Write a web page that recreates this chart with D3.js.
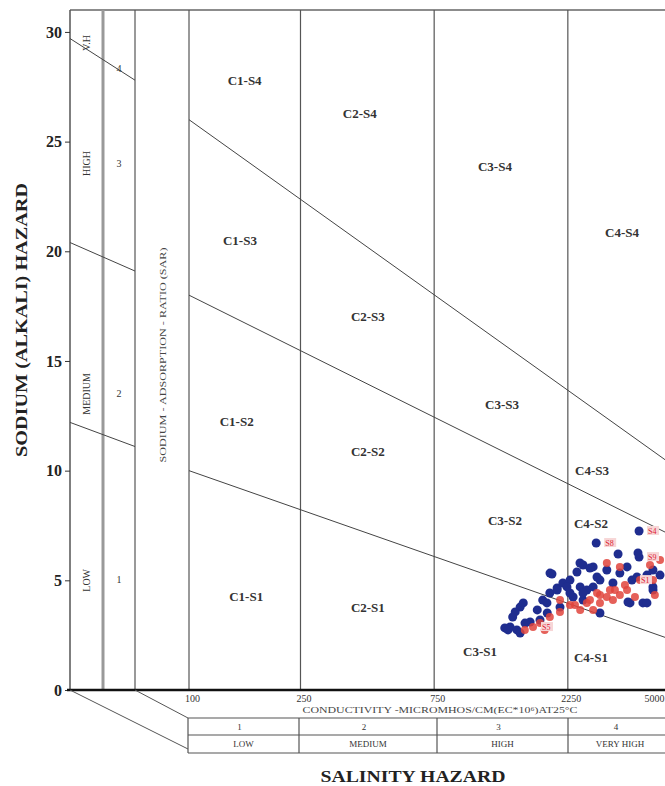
<!DOCTYPE html>
<html>
<head>
<meta charset="utf-8">
<script src="https://cdn.jsdelivr.net/npm/d3@7"></script>
<style>
  body { margin: 0; background: #fff; }
  svg { display: block; font-family: "Liberation Serif", "DejaVu Serif", serif; }
</style>
</head>
<body>
<svg width="665" height="786"></svg>
<script>
// conductivity ticks (micromhos/cm) and SAR ticks
const ecTicks = [100, 250, 750, 2250, 5000];
const sarTicks = [0, 5, 10, 15, 20, 25, 30];

const salinityClasses = ['1', '2', '3', '4'];
const salinityNames = ['LOW', 'MEDIUM', 'HIGH', 'VERY HIGH'];
const sodiumClasses = ['1', '2', '3', '4'];
const sodiumNames = ['LOW', 'MEDIUM', 'HIGH', 'V.H'];
const sodiumClassSar = [5, 13.5, 24, 29.5];   // where the class names sit on the left strip

// sodium hazard boundaries: [EC, SAR] at both ends
const s12 = [[100, 10], [5000, 2.4]];
const s23 = [[100, 18], [5000, 7.2]];
const s34 = [[100, 26], [5000, 10.5]];
// boundaries on the left SAR strip: SAR at left / right edge
const stripBounds = [[29.7, 27.8], [20.4, 19.1], [12.2, 11.1]];

const zoneLabels = [
  ['C1-S4', 158, 27.8], ['C2-S4', 407, 26.3], ['C3-S4', 1236, 23.9], ['C4-S4', 3512, 20.9],
  ['C1-S3', 152, 20.5], ['C2-S3', 435, 17.05], ['C3-S3', 1310, 13.04], ['C4-S3', 2744, 10.03],
  ['C1-S2', 148, 12.26], ['C2-S2', 435, 10.9], ['C3-S2', 1342, 7.75], ['C4-S2', 2721, 7.61],
  ['C1-S1', 160, 4.29], ['C2-S1', 435, 3.78], ['C3-S1', 1093, 1.78], ['C4-S1', 2721, 1.5]
];

// samples, season 1 (blue) : [EC, SAR]
const blueSamples = [
  [4040, 7.25], [2840, 6.70], [3400, 6.20], [4040, 6.06], [1975, 5.29], [2550, 5.70],
  [2425, 5.38], [2770, 5.61], [3100, 5.47], [3450, 5.33], [3810, 5.01], [4310, 5.24],
  [1520, 3.78], [1460, 3.56], [1560, 3.97], [1400, 2.87], [1480, 2.74], [1520, 2.60],
  [1650, 3.10], [1750, 3.65], [1830, 4.10], [1940, 4.42], [2060, 4.65], [2160, 4.88],
  [2290, 5.01], [2490, 4.70], [2630, 4.56], [2350, 4.24], [2110, 3.78], [1790, 3.19],
  [1900, 3.51], [2930, 3.51], [3750, 3.97], [4170, 3.97], [3260, 4.88], [2770, 4.70],
  [2550, 4.10], [1340, 2.83], [1430, 3.33], [1895, 3.97], [2060, 4.56], [4530, 4.56],
  [4800, 5.24], [3660, 5.61], [2930, 5.01], [1582, 3.05], [1376, 2.74], [2289, 4.42],
  [4005, 6.25], [4529, 5.47], [2486, 5.79], [2698, 5.56], [3972, 5.15], [4529, 4.70],
  [1943, 5.33], [3689, 4.01], [4311, 3.97], [2234, 4.70], [2548, 4.42], [2859, 5.15]
];
// samples, season 2 (red)
const redSamples = [
  [3100, 4.24], [2860, 4.42], [3260, 4.10], [2930, 3.97], [2630, 3.97], [1690, 2.87],
  [1790, 3.05], [4070, 5.01], [3660, 4.56], [4530, 5.01], [2110, 4.10], [1940, 3.33],
  [2490, 3.65], [3450, 5.61], [3100, 5.79], [1580, 2.74], [1860, 2.74], [2770, 3.65],
  [3180, 4.56], [2290, 3.88], [3450, 4.33], [4600, 4.33], [4800, 5.93], [4420, 5.70],
  [2931, 4.33], [3313, 4.56], [2698, 4.10], [2386, 3.88], [3597, 4.79], [2109, 3.56],
  [3906, 4.24]
];
const sampleLabels = [
  ['S4', 4040, 7.25], ['S8', 2840, 6.70], ['S5', 1690, 2.87], ['S9', 4040, 6.06], ['S1', 3810, 5.01]
];

const svg = d3.select('svg');

const x = d3.scaleLog().domain([100, 5000]).range([189, 665]);
const y = d3.scaleLinear().domain([0, 31]).range([690, 10]);

const left = 70, strip1 = 103, strip2 = 135;
const plotTop = y(31), plotBottom = y(0);

// frame
svg.append('line').attr('x1', left).attr('x2', 665).attr('y1', plotTop).attr('y2', plotTop)
  .attr('stroke', '#666').attr('stroke-width', 1.5);
svg.append('line').attr('x1', left).attr('x2', left).attr('y1', plotTop).attr('y2', plotBottom)
  .attr('stroke', '#555').attr('stroke-width', 1.5);
svg.append('line').attr('x1', strip1).attr('x2', strip1).attr('y1', plotTop).attr('y2', plotBottom)
  .attr('stroke', '#999').attr('stroke-width', 3);
svg.append('line').attr('x1', strip2).attr('x2', strip2).attr('y1', plotTop).attr('y2', plotBottom)
  .attr('stroke', '#555').attr('stroke-width', 1.2);

svg.selectAll('.vline')
  .data(ecTicks.slice(0, 4))
  .enter().append('line')
  .attr('class', 'vline')
  .attr('x1', d => x(d)).attr('x2', d => x(d))
  .attr('y1', plotTop).attr('y2', plotBottom)
  .attr('stroke', '#555').attr('stroke-width', 1.2);

// hazard boundaries
const line = d3.line().x(d => x(d[0])).y(d => y(d[1]));
svg.selectAll('.bound')
  .data([s12, s23, s34])
  .enter().append('path')
  .attr('class', 'bound')
  .attr('d', line)
  .attr('fill', 'none').attr('stroke', '#444').attr('stroke-width', 1);

svg.selectAll('.sbound')
  .data(stripBounds)
  .enter().append('line')
  .attr('x1', left).attr('x2', strip2)
  .attr('y1', d => y(d[0])).attr('y2', d => y(d[1]))
  .attr('stroke', '#444').attr('stroke-width', 1);

// strip texts
svg.selectAll('.sname')
  .data(sodiumNames)
  .enter().append('text')
  .attr('transform', (d, i) => 'translate(90,' + y(sodiumClassSar[i]) + ') rotate(-90)')
  .attr('text-anchor', 'middle')
  .attr('font-size', 10).attr('fill', '#333')
  .text(d => d);
svg.selectAll('.snum')
  .data(sodiumClasses)
  .enter().append('text')
  .attr('x', 119)
  .attr('y', (d, i) => y(sodiumClassSar[i] + (i === 3 ? -1.2 : 0)) + 3)
  .attr('text-anchor', 'middle')
  .attr('font-size', 10).attr('fill', '#333')
  .text(d => d);

svg.append('text')
  .attr('transform', 'translate(166,355) rotate(-90)')
  .attr('text-anchor', 'middle')
  .attr('font-size', 9).attr('fill', '#444')
  .attr('textLength', 215).attr('lengthAdjust', 'spacingAndGlyphs')
  .text('SODIUM - ADSORPTION - RATIO (SAR)');

// zone labels
svg.selectAll('.zone')
  .data(zoneLabels)
  .enter().append('text')
  .attr('x', d => x(d[1])).attr('y', d => y(d[2]) + 5)
  .attr('text-anchor', 'middle')
  .attr('font-size', 13).attr('font-weight', 'bold').attr('fill', '#333')
  .text(d => d[0]);

// samples
svg.selectAll('.blue')
  .data(blueSamples)
  .enter().append('circle')
  .attr('cx', d => x(d[0])).attr('cy', d => y(d[1]))
  .attr('r', 4.5).attr('fill', '#1f2d8f');
svg.selectAll('.red')
  .data(redSamples)
  .enter().append('circle')
  .attr('cx', d => x(d[0])).attr('cy', d => y(d[1]))
  .attr('r', 4).attr('fill', '#e0443c').attr('opacity', 0.85);
const lab = svg.selectAll('.slabel')
  .data(sampleLabels)
  .enter().append('g')
  .attr('transform', d => 'translate(' + (x(d[1]) + 8) + ',' + y(d[2]) + ')');
lab.append('rect')
  .attr('x', 0).attr('y', -5).attr('width', 12).attr('height', 9)
  .attr('fill', '#f7d6d6');
lab.append('text')
  .attr('x', 1).attr('y', 3)
  .attr('font-size', 8).attr('fill', '#d23')
  .text(d => d[0]);

// y axis
const yAxis = svg.append('g')
  .attr('transform', 'translate(' + left + ',0)')
  .call(d3.axisLeft(y).tickValues(sarTicks).tickSize(5).tickPadding(3));
yAxis.select('.domain').remove();
yAxis.selectAll('line').attr('stroke', '#333');
yAxis.selectAll('text')
  .attr('font-family', '"Liberation Serif", serif')
  .attr('font-size', 16).attr('font-weight', 'bold').attr('fill', '#222');

// x axis line and ticks
svg.append('line').attr('x1', 67).attr('x2', 665).attr('y1', plotBottom).attr('y2', plotBottom)
  .attr('stroke', '#111').attr('stroke-width', 2.5);
const xAxis = svg.append('g')
  .attr('transform', 'translate(0,' + plotBottom + ')')
  .call(d3.axisBottom(x).tickValues(ecTicks).tickSize(0).tickPadding(5).tickFormat(d3.format('d')));
xAxis.select('.domain').remove();
xAxis.selectAll('text')
  .attr('font-family', '"Liberation Serif", serif')
  .attr('font-size', 10).attr('fill', '#333')
  .attr('dx', (d, i) => i === ecTicks.length - 1 ? -1 : 3)
  .attr('text-anchor', (d, i) => i === ecTicks.length - 1 ? 'end' : 'middle');

svg.append('text')
  .attr('x', 440).attr('y', 713)
  .attr('text-anchor', 'middle')
  .attr('font-size', 9).attr('fill', '#444')
  .attr('textLength', 275).attr('lengthAdjust', 'spacingAndGlyphs')
  .text('CONDUCTIVITY -MICROMHOS/CM(EC*10\u2076)AT25\u00b0C');

// perspective lines to the salinity table
const tTop = 718, tMid = 735, tBot = 753, tLeft = 188;
svg.append('line').attr('x1', left).attr('y1', plotBottom).attr('x2', tLeft).attr('y2', tBot - 4)
  .attr('stroke', '#555').attr('stroke-width', 1);
svg.append('line').attr('x1', strip2).attr('y1', plotBottom).attr('x2', tLeft).attr('y2', tTop)
  .attr('stroke', '#555').attr('stroke-width', 1);

// salinity table
[tTop, tMid, tBot].forEach(ty => {
  svg.append('line').attr('x1', tLeft).attr('x2', 665).attr('y1', ty).attr('y2', ty)
    .attr('stroke', '#555').attr('stroke-width', 1.2);
});
const cellEdges = [tLeft, 299, 437, 568, 672];
svg.selectAll('.tdiv')
  .data(cellEdges.slice(0, 4))
  .enter().append('line')
  .attr('x1', d => d).attr('x2', d => d)
  .attr('y1', tTop).attr('y2', tBot)
  .attr('stroke', '#555').attr('stroke-width', 1.2);
svg.selectAll('.tnum')
  .data(salinityClasses)
  .enter().append('text')
  .attr('x', (d, i) => (cellEdges[i] + cellEdges[i + 1]) / 2 - 4)
  .attr('y', 730)
  .attr('text-anchor', 'middle')
  .attr('font-size', 9).attr('fill', '#333')
  .text(d => d);
svg.selectAll('.tname')
  .data(salinityNames)
  .enter().append('text')
  .attr('x', (d, i) => (cellEdges[i] + cellEdges[i + 1]) / 2)
  .attr('y', 747)
  .attr('text-anchor', 'middle')
  .attr('font-size', 9).attr('fill', '#333')
  .text(d => d);

// axis titles
svg.append('text')
  .attr('x', 413).attr('y', 782)
  .attr('text-anchor', 'middle')
  .attr('font-size', 17).attr('font-weight', 'bold').attr('fill', '#222')
  .attr('textLength', 185).attr('lengthAdjust', 'spacingAndGlyphs')
  .text('SALINITY HAZARD');
svg.append('text')
  .attr('transform', 'translate(27,320) rotate(-90)')
  .attr('text-anchor', 'middle')
  .attr('font-size', 16).attr('font-weight', 'bold').attr('fill', '#222')
  .attr('textLength', 274).attr('lengthAdjust', 'spacingAndGlyphs')
  .text('SODIUM (ALKALI) HAZARD');
</script>
</body>
</html>
